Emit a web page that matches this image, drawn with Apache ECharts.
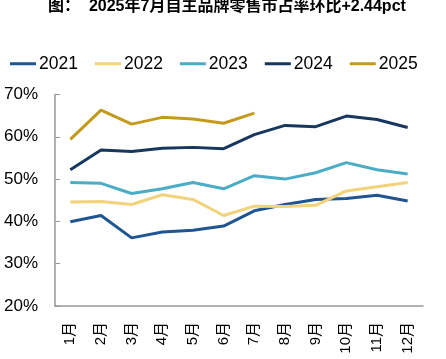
<!DOCTYPE html>
<html><head><meta charset="utf-8">
<script src="https://cdn.jsdelivr.net/npm/echarts@6/dist/echarts.min.js"></script>
<style>html,body{margin:0;padding:0;background:#fff}#c{width:446px;height:359px}</style>
</head><body><div id="c"></div>
<script>
const months = ['1月','2月','3月','4月','5月','6月','7月','8月','9月','10月','11月','12月'];
const yTicks = [20, 30, 40, 50, 60, 70];
const s2021 = [39.9, 41.4, 36.1, 37.5, 37.9, 38.9, 42.5, 44.0, 45.2, 45.4, 46.2, 44.8];
const s2022 = [44.6, 44.7, 44.0, 46.3, 45.2, 41.4, 43.6, 43.5, 43.8, 47.2, 48.2, 49.2];
const s2023 = [49.2, 49.0, 46.6, 47.7, 49.2, 47.7, 50.8, 50.0, 51.5, 53.9, 52.2, 51.2];
const s2024 = [52.2, 56.9, 56.5, 57.3, 57.5, 57.2, 60.5, 62.7, 62.4, 64.9, 64.1, 62.2];
const s2025 = [59.4, 66.3, 63.0, 64.6, 64.2, 63.2, 65.6];
const names = ['2021','2022','2023','2024','2025'];
const colors = ['#1F5591','#F2D27A','#4BACC6','#17375E','#C39A1B'];
const data = [s2021, s2022, s2023, s2024, s2025];

const font = '"Liberation Sans", Arial, "Noto Sans CJK SC", sans-serif';
const chart = echarts.init(document.getElementById('c'));
chart.setOption({
  animation: false,
  title: {
    text: '图：  2025年7月自主品牌零售市占率环比+2.44pct',
    left: 48, top: -1, padding: 0,
    textStyle: { fontFamily: font, fontWeight: 'bold', fontSize: 16, color: '#000' }
  },
  legend: {
    data: names, left: 10, top: 55, padding: 0,
    itemWidth: 26, itemHeight: 18, itemGap: 17,
    icon: 'path://M0,8 L26,8 L26,11 L0,11 Z',
    textStyle: { fontFamily: font, fontSize: 17.5, color: '#000', padding: [0,0,0,-2] }
  },
  grid: { left: 55, right: 23, top: 94.5, bottom: 53, containLabel: false },
  xAxis: {
    type: 'category', data: months, boundaryGap: true,
    axisLine: { lineStyle: { color: '#999', width: 1.5 } },
    axisTick: { inside: true, length: 6, lineStyle: { color: '#999' } },
    axisLabel: { rotate: 90, margin: 16, fontFamily: font, fontSize: 15, color: '#000' },
    splitLine: { show: false }
  },
  yAxis: {
    type: 'value', min: yTicks[0], max: yTicks[yTicks.length-1], interval: 10,
    axisLine: { show: true, lineStyle: { color: '#999', width: 1.5 } },
    axisTick: { show: true, inside: true, length: 5, lineStyle: { color: '#999' } },
    axisLabel: { formatter: '{value}%', margin: 17, fontFamily: font, fontSize: 17, color: '#000' },
    splitLine: { show: false }
  },
  series: names.map((n, i) => ({
    name: n, type: 'line', data: data[i], symbol: 'none',
    lineStyle: { color: colors[i], width: 3 },
    itemStyle: { color: colors[i] }
  }))
});
</script></body></html>
